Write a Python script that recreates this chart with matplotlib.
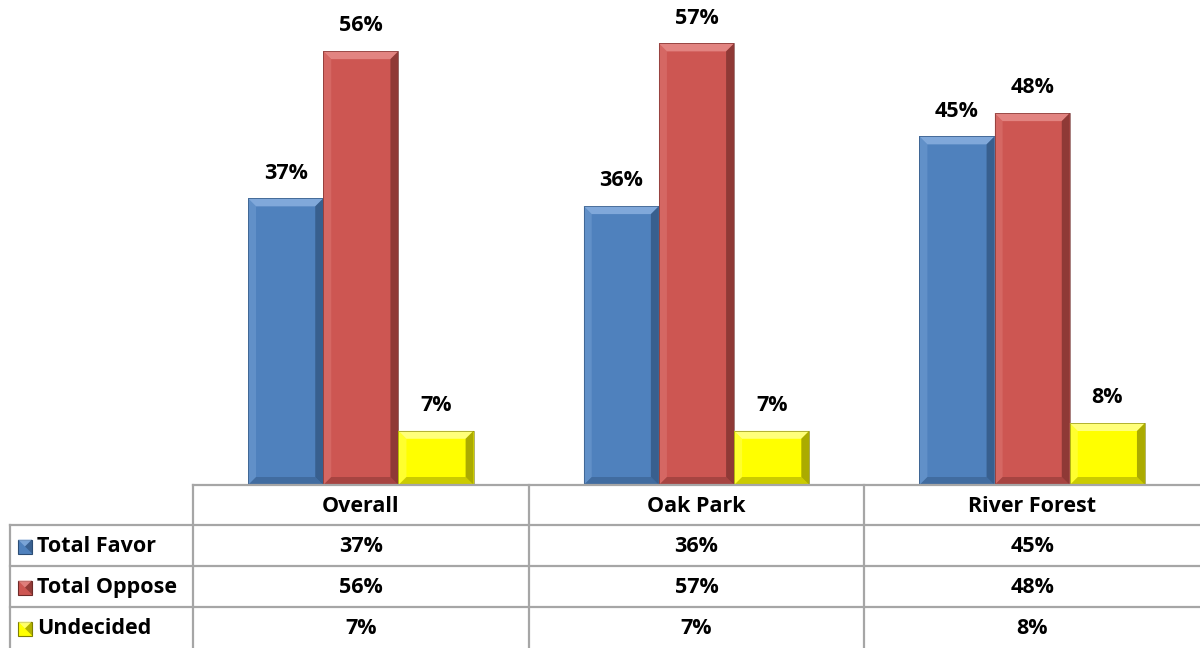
import matplotlib.pyplot as plt
from matplotlib.patches import Polygon, Rectangle

plt.rcParams['font.family'] = ['Open Sans', 'DejaVu Sans']

# data
categories = ["Overall", "Oak Park", "River Forest"]
series_names = ["Total Favor", "Total Oppose", "Undecided"]
favor = [37, 36, 45]
oppose = [56, 57, 48]
undecided = [7, 7, 8]
series_values = [favor, oppose, undecided]
colors = ["#4F81BD", "#CD5652", "#FFFF00"]
lights = ["#8DB3E2", "#E8908D", "#FFFF99"]
darks = ["#2C4D75", "#6E2A28", "#7F7F00"]

W, H = 1200, 648
left_px, base_px = 193, 485
fig = plt.figure(figsize=(W / 100, H / 100), dpi=100)

ax = fig.add_axes([left_px / W, (H - base_px) / H, (W - left_px) / W, base_px / H])
ymax = 62.6
ax.set_xlim(-0.5, 2.5)
ax.set_ylim(0, ymax)
ax.axis("off")

bar_w = 0.224
px_x = 3.0 / (W - left_px)      # data units per pixel in x
px_y = ymax / base_px           # data units per pixel in y
bev = 8
fs = 15.5


def bevel_bar(a, x0, h, fc, lc, dc):
    x1 = x0 + bar_w
    bx, by = bev * px_x, bev * px_y
    a.add_patch(Rectangle((x0, 0), bar_w, h, fc=fc, ec="none"))
    # top and left faces lighter, right and bottom darker
    a.add_patch(Polygon([(x0, h), (x1, h), (x1 - bx, h - by), (x0 + bx, h - by)],
                        fc=lc, ec="none", alpha=0.8))
    a.add_patch(Polygon([(x0, 0), (x0, h), (x0 + bx, h - by), (x0 + bx, by)],
                        fc=lc, ec="none", alpha=0.3))
    a.add_patch(Polygon([(x1, 0), (x1, h), (x1 - bx, h - by), (x1 - bx, by)],
                        fc=dc, ec="none", alpha=0.65))
    a.add_patch(Polygon([(x0, 0), (x1, 0), (x1 - bx, by), (x0 + bx, by)],
                        fc=dc, ec="none", alpha=0.4))
    a.add_patch(Rectangle((x0, 0), bar_w, h, fc="none", ec=dc, lw=0.6, alpha=0.7))


for si, vals in enumerate(series_values):
    for ci, v in enumerate(vals):
        x0 = ci + (si - 1.5) * bar_w
        bevel_bar(ax, x0, v, colors[si], lights[si], darks[si])
        ax.text(x0 + bar_w / 2, v + 1.9, f"{v}%", ha="center", va="bottom",
                fontsize=fs, fontweight="bold")

# data table below the plot, in pixel coordinates
tab = fig.add_axes([0, 0, 1, 1])
tab.set_xlim(0, W)
tab.set_ylim(H, 0)
tab.axis("off")
tab.patch.set_alpha(0)

grid = "#A6A6A6"
col_edges = [left_px + i * (W - left_px) / 3 for i in range(4)]
row_edges = [base_px, 525, 566, 607, H]
lw = 1.6

tab.plot([left_px, W], [base_px, base_px], color=grid, lw=lw)
for y in row_edges[1:4]:
    tab.plot([10, W], [y, y], color=grid, lw=lw)
tab.plot([10, 10], [row_edges[1], H], color=grid, lw=lw)
for x in col_edges[:3]:
    tab.plot([x, x], [base_px, H], color=grid, lw=lw)

for ci, cat in enumerate(categories):
    cx = (col_edges[ci] + col_edges[ci + 1]) / 2
    tab.text(cx, (row_edges[0] + row_edges[1]) / 2 + 1, cat, ha="center", va="center",
             fontsize=fs, fontweight="bold")

for si, name in enumerate(series_names):
    cy = (row_edges[si + 1] + row_edges[si + 2]) / 2 + 1
    # legend key
    k0, ks = 18, 14
    tab.add_patch(Rectangle((k0, cy - ks / 2), ks, ks, fc=colors[si], ec=darks[si], lw=0.8))
    tab.add_patch(Polygon([(k0, cy - ks / 2), (k0 + ks, cy - ks / 2),
                           (k0 + ks / 2, cy)], fc=lights[si], ec="none", alpha=0.7))
    tab.add_patch(Polygon([(k0 + ks, cy - ks / 2), (k0 + ks, cy + ks / 2),
                           (k0 + ks / 2, cy)], fc=darks[si], ec="none", alpha=0.6))
    tab.text(37, cy, name, ha="left", va="center", fontsize=fs, fontweight="bold")
    for ci, v in enumerate(series_values[si]):
        cx = (col_edges[ci] + col_edges[ci + 1]) / 2
        tab.text(cx, cy, f"{v}%", ha="center", va="center", fontsize=fs, fontweight="bold")

fig.savefig("out.png", dpi=100)
